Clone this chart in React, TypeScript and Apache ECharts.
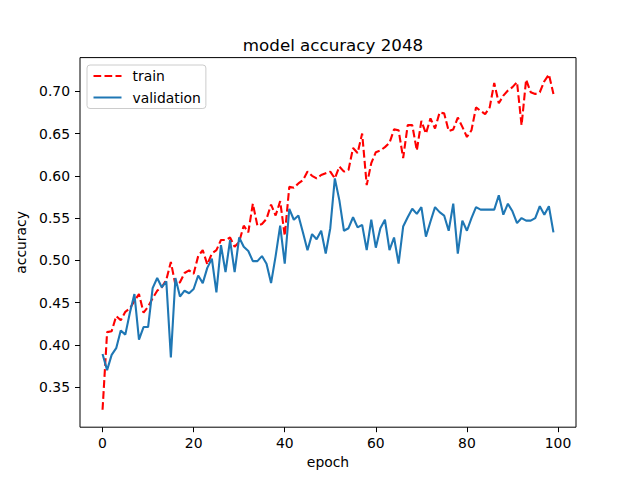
import React, { useEffect, useRef } from "react";
import * as echarts from "echarts";

const epochs: number[] = Array.from({ length: 100 }, (_, i) => i);

const trainAcc: number[] = [
  0.323, 0.415, 0.416, 0.434, 0.429, 0.439, 0.443, 0.452, 0.46, 0.438,
  0.445, 0.455, 0.464, 0.468, 0.477, 0.498, 0.471, 0.474, 0.485, 0.488,
  0.484, 0.505, 0.512, 0.495, 0.508, 0.512, 0.524, 0.524, 0.527, 0.516,
  0.522, 0.541, 0.533, 0.567, 0.541, 0.543, 0.549, 0.566, 0.553, 0.57,
  0.529, 0.587, 0.586, 0.591, 0.595, 0.605, 0.6, 0.597, 0.601, 0.603,
  0.605, 0.597, 0.611, 0.605, 0.607, 0.633, 0.627, 0.65, 0.589, 0.615,
  0.628, 0.63, 0.634, 0.639, 0.655, 0.654, 0.621, 0.66, 0.66, 0.63,
  0.665, 0.65, 0.668, 0.656, 0.675, 0.674, 0.653, 0.655, 0.669, 0.658,
  0.646, 0.654, 0.681, 0.677, 0.673, 0.681, 0.71, 0.686, 0.695, 0.701,
  0.705, 0.711, 0.66, 0.714, 0.699, 0.697, 0.699, 0.712, 0.72, 0.697,
];

const valAcc: number[] = [
  0.389, 0.37, 0.388, 0.396, 0.417, 0.412, 0.438, 0.46, 0.406, 0.421,
  0.421, 0.467, 0.479, 0.468, 0.475, 0.385, 0.479, 0.457, 0.464, 0.461,
  0.466, 0.482, 0.473, 0.491, 0.502, 0.462, 0.518, 0.486, 0.524, 0.486,
  0.527, 0.516, 0.511, 0.499, 0.499, 0.505, 0.496, 0.473, 0.505, 0.541,
  0.496, 0.561, 0.548, 0.553, 0.533, 0.512, 0.531, 0.525, 0.535, 0.508,
  0.538, 0.597, 0.571, 0.535, 0.538, 0.551, 0.539, 0.542, 0.512, 0.548,
  0.515, 0.538, 0.548, 0.512, 0.527, 0.496, 0.54, 0.551, 0.561, 0.555,
  0.563, 0.528, 0.546, 0.563, 0.557, 0.553, 0.535, 0.567, 0.508, 0.547,
  0.535, 0.55, 0.563, 0.56, 0.56, 0.56, 0.56, 0.577, 0.554, 0.567,
  0.558, 0.544, 0.55, 0.547, 0.547, 0.55, 0.564, 0.554, 0.564, 0.533,
];

const xTicks: number[] = [0, 20, 40, 60, 80, 100];
const yTicks: number[] = [0.35, 0.4, 0.45, 0.5, 0.55, 0.6, 0.65, 0.7];

const FONT = "DejaVu Sans";

export default function App() {
  const ref = useRef<HTMLDivElement>(null);
  useEffect(() => {
    if (!ref.current) return;
    const chart = echarts.init(ref.current, null, { renderer: "svg" });
    chart.setOption({
      animation: false,
      backgroundColor: "#ffffff",
      title: {
        text: "model accuracy 2048",
        left: 328,
        top: 31,
        textAlign: "center",
        textStyle: { fontFamily: FONT, fontSize: 16.7, fontWeight: "normal", color: "#000" },
      },
      legend: {
        orient: "vertical",
        left: 87,
        top: 65,
        padding: [4, 5, 4, 5.5],
        itemWidth: 28,
        itemHeight: 14,
        itemGap: 7.5,
        itemStyle: { opacity: 0 },
        backgroundColor: "rgba(255,255,255,0.8)",
        borderColor: "#cccccc",
        borderWidth: 1,
        borderRadius: 3,
        textStyle: { fontFamily: FONT, fontSize: 13.9, color: "#000", padding: [0, 0, 0, 6] },
        data: ["train", "validation"],
      },
      grid: {
        left: 80,
        right: 64,
        top: 57.6,
        bottom: 52.8,
        show: true,
        borderColor: "#000",
        borderWidth: 1,
        backgroundColor: "transparent",
      },
      xAxis: {
        type: "value",
        min: -4.95,
        max: 103.95,
        name: "epoch",
        nameLocation: "middle",
        nameGap: 28,
        nameTextStyle: { fontFamily: FONT, fontSize: 13.9, color: "#000" },
        axisLine: { show: false, onZero: false },
        axisTick: { show: true, length: 5, customValues: xTicks, lineStyle: { color: "#000", width: 1 } },
        axisLabel: {
          customValues: xTicks,
          margin: 9,
          fontFamily: FONT,
          fontSize: 13.9,
          color: "#000",
          showMinLabel: true,
          showMaxLabel: true,
        },
        splitLine: { show: false },
      },
      yAxis: {
        type: "value",
        min: 0.3024,
        max: 0.74,
        name: "accuracy",
        nameLocation: "middle",
        nameGap: 47,
        nameRotate: 90,
        nameTextStyle: { fontFamily: FONT, fontSize: 13.9, color: "#000" },
        axisLine: { show: false, onZero: false },
        axisTick: { show: true, length: 5, customValues: yTicks, lineStyle: { color: "#000", width: 1 } },
        axisLabel: {
          customValues: yTicks,
          margin: 10,
          fontFamily: FONT,
          fontSize: 13.9,
          color: "#000",
          formatter: (v: number) => v.toFixed(2),
        },
        splitLine: { show: false },
      },
      series: [
        {
          name: "train",
          type: "line",
          data: epochs.map((e, i) => [e, trainAcc[i]]),
          symbol: "none",
          lineStyle: { color: "#ff0000", width: 2.1, type: [7.7, 3.3] },
          itemStyle: { color: "#ff0000" },
          z: 2,
        },
        {
          name: "validation",
          type: "line",
          data: epochs.map((e, i) => [e, valAcc[i]]),
          symbol: "none",
          lineStyle: { color: "#1f77b4", width: 2.1 },
          itemStyle: { color: "#1f77b4" },
          z: 3,
        },
      ],
    });
    return () => chart.dispose();
  }, []);
  return (
    <div
      ref={ref}
      style={{ position: "fixed", left: 0, top: 0, width: 640, height: 480, background: "#fff" }}
    />
  );
}
